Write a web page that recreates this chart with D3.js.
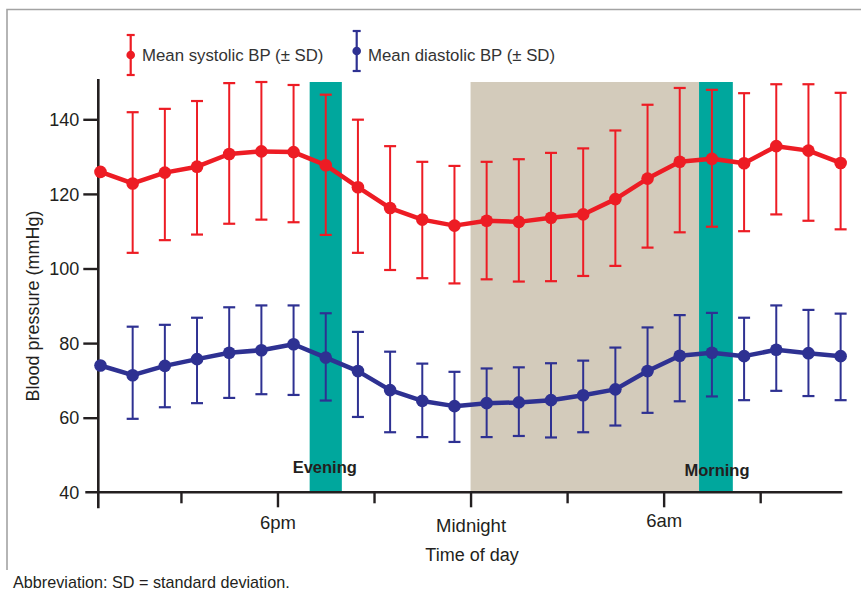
<!DOCTYPE html>
<html>
<head>
<meta charset="utf-8">
<script src="https://cdn.jsdelivr.net/npm/d3@7"></script>
<style>
  html, body { margin: 0; padding: 0; background: #fff; }
  svg { display: block; font-family: "Liberation Sans", Arial, sans-serif; }
</style>
</head>
<body>
<svg id="chart" width="861" height="595"></svg>
<script>
// ---------- data ----------
const hours = [0.5,1.5,2.5,3.5,4.5,5.5,6.5,7.5,8.5,9.5,10.5,11.5,12.5,13.5,14.5,15.5,16.5,17.5,18.5,19.5,20.5,21.5,22.5,23.5]; // hours after noon
const sysMean = [125.9,122.8,125.7,127.3,130.7,131.4,131.2,127.7,121.8,116.2,113.1,111.5,112.8,112.5,113.6,114.5,118.6,124.1,128.6,129.4,128.2,132.8,131.6,128.3];
const sysHigh = [null,141.9,142.8,144.9,149.7,150.0,149.2,146.6,139.9,132.8,128.6,127.5,128.6,129.3,131.0,132.2,137.0,143.9,148.4,147.9,147.0,149.4,149.4,147.1];
const sysLow  = [null,104.2,107.6,109.1,112.0,113.1,112.4,109.0,104.2,99.6,97.4,96.0,97.1,96.5,96.6,98.0,100.7,105.6,109.7,111.2,110.0,114.5,112.8,110.5];
const diaMean = [74.0,71.4,73.9,75.7,77.4,78.1,79.7,76.1,72.5,67.4,64.5,63.1,63.9,64.1,64.7,66.0,67.6,72.5,76.6,77.4,76.5,78.2,77.3,76.5];
const diaHigh = [null,84.4,84.9,86.8,89.6,90.1,90.1,88.0,83.0,77.7,74.5,72.3,73.2,73.5,74.6,75.3,78.8,84.2,87.5,88.1,86.8,90.1,88.9,87.9];
const diaLow  = [null,59.7,62.8,63.9,65.3,66.3,66.1,64.6,60.2,56.1,54.8,53.5,54.8,55.1,54.7,56.1,57.9,61.3,64.4,65.7,64.7,67.2,65.8,64.7];

const yTicks = [40,60,80,100,120,140];
const xTickHours = [3,6,9,12,15,18,21];
const xTickLabels = ["","6pm","","Midnight","","6am",""];
const bandNames = ["Evening","Night","Morning"];
const bandStart = [7,12,19.1];
const bandEnd   = [8,19.1,20.15];
const bandLabels = ["Evening","","Morning"];
const seriesNames = ["Mean systolic BP (\u00b1 SD)","Mean diastolic BP (\u00b1 SD)"];

// ---------- styles ----------
const RED = "#ed1c24", BLUE = "#2e3192", TEAL = "#00a79d", BEIGE = "#d3cbbb", INK = "#231f20";

const svg = d3.select("#chart");
const x = d3.scaleLinear().domain([0,24]).range([84.4, 84.4 + 32.18*24]);
const y = d3.scaleLinear().domain([40,140]).range([492.3,119.3]);
const axisX = 98.3;

// frame (top + left)
svg.append("path").attr("d","M7,570 L7,9.5 L861,9.5").attr("fill","none")
  .attr("stroke","#a3a3a3").attr("stroke-width",1.6);

// bands
const bandColors = [TEAL, BEIGE, TEAL];
svg.append("g").selectAll("rect").data(bandNames).join("rect")
  .attr("x",(d,i)=>x(bandStart[i]))
  .attr("width",(d,i)=>x(bandEnd[i])-x(bandStart[i]))
  .attr("y",y(150)).attr("height",y(40)-y(150))
  .attr("fill",(d,i)=>bandColors[i]);

// y axis
const yAxis = svg.append("g").attr("transform",`translate(${axisX},0)`)
  .call(d3.axisLeft(y).tickValues(yTicks).tickSize(15).tickPadding(4).tickSizeOuter(0));
yAxis.select(".domain").remove();
yAxis.append("line").attr("x1",0).attr("x2",0).attr("y1",y(150.8)).attr("y2",y(40)+16)
  .attr("stroke",INK).attr("stroke-width",2.6);
yAxis.selectAll(".tick line").attr("stroke",INK).attr("stroke-width",2.4);
yAxis.selectAll(".tick text").attr("fill",INK).attr("font-size",18).attr("dy","0.34em")
  .attr("font-family","'Liberation Sans', Arial, sans-serif");
yAxis.selectAll(".tick").filter(d=>d===40).select("line").remove();

// x axis
const xAxis = svg.append("g").attr("transform",`translate(0,${y(40)})`)
  .call(d3.axisBottom(x).tickValues(xTickHours).tickFormat((d,i)=>xTickLabels[i]).tickSizeOuter(0));
xAxis.select(".domain").remove();
xAxis.append("line").attr("x1",axisX-13).attr("x2",x(23.55)).attr("y1",0).attr("y2",0)
  .attr("stroke",INK).attr("stroke-width",2.6);
xAxis.selectAll(".tick line").attr("stroke",INK).attr("stroke-width",2.4)
  .attr("y2",(d,i)=>xTickLabels[i] ? 15 : 11);
const labelDy = {"6pm":36.5, "Midnight":40, "6am":35};
xAxis.selectAll(".tick text").attr("fill",INK).attr("font-size",18.5)
  .attr("font-family","'Liberation Sans', Arial, sans-serif")
  .attr("y",(d,i)=>labelDy[xTickLabels[i]] || 0).attr("dy",0);

// axis titles
svg.append("text").attr("x",472).attr("y",561).attr("text-anchor","middle")
  .attr("font-size",18).attr("fill",INK).text("Time of day");
svg.append("text").attr("transform","translate(39,306) rotate(-90)").attr("text-anchor","middle")
  .attr("font-size",18).attr("fill",INK).text("Blood pressure (mmHg)");

// band labels
svg.append("g").selectAll("text").data(bandLabels.filter(d=>d)).join("text")
  .attr("x",(d)=>{const i=bandLabels.indexOf(d); return x((bandStart[i]+bandEnd[i])/2) - (d==="Evening"?1:-1);})
  .attr("y",(d)=>d==="Evening"?473:475.5)
  .attr("text-anchor","middle").attr("font-size",16.5).attr("font-weight","bold")
  .attr("fill",INK).text(d=>d);

// series
function drawSeries(mean, hi, lo, color){
  const g = svg.append("g");
  const idx = d3.range(mean.length).filter(i=>hi[i]!==null);
  const cap = 6;
  g.selectAll("line.v").data(idx).join("line").attr("class","v")
    .attr("x1",i=>x(hours[i])).attr("x2",i=>x(hours[i]))
    .attr("y1",i=>y(hi[i])).attr("y2",i=>y(lo[i]))
    .attr("stroke",color).attr("stroke-width",2);
  g.selectAll("line.t").data(idx).join("line").attr("class","t")
    .attr("x1",i=>x(hours[i])-cap).attr("x2",i=>x(hours[i])+cap)
    .attr("y1",i=>y(hi[i])).attr("y2",i=>y(hi[i]))
    .attr("stroke",color).attr("stroke-width",2.2);
  g.selectAll("line.b").data(idx).join("line").attr("class","b")
    .attr("x1",i=>x(hours[i])-cap).attr("x2",i=>x(hours[i])+cap)
    .attr("y1",i=>y(lo[i])).attr("y2",i=>y(lo[i]))
    .attr("stroke",color).attr("stroke-width",2.2);
  g.append("path").datum(mean)
    .attr("d",d3.line().x((d,i)=>x(hours[i])).y(d=>y(d)))
    .attr("fill","none").attr("stroke",color).attr("stroke-width",4.5).attr("stroke-linejoin","round");
  g.selectAll("circle").data(mean).join("circle")
    .attr("cx",(d,i)=>x(hours[i])).attr("cy",d=>y(d)).attr("r",6.3).attr("fill",color);
}
drawSeries(sysMean, sysHigh, sysLow, RED);
drawSeries(diaMean, diaHigh, diaLow, BLUE);

// legend
const legend = [
  {name: seriesNames[0], color: RED, mx: 130.7, top: 35, bot: 75, tx: 142},
  {name: seriesNames[1], color: BLUE, mx: 356.7, top: 31, bot: 71, tx: 368}
];
const lg = svg.append("g").selectAll("g").data(legend).join("g");
lg.append("line").attr("x1",d=>d.mx).attr("x2",d=>d.mx).attr("y1",d=>d.top).attr("y2",d=>d.bot)
  .attr("stroke",d=>d.color).attr("stroke-width",2.2);
lg.append("line").attr("x1",d=>d.mx-4).attr("x2",d=>d.mx+4).attr("y1",d=>d.top).attr("y2",d=>d.top)
  .attr("stroke",d=>d.color).attr("stroke-width",2.2);
lg.append("line").attr("x1",d=>d.mx-4).attr("x2",d=>d.mx+4).attr("y1",d=>d.bot).attr("y2",d=>d.bot)
  .attr("stroke",d=>d.color).attr("stroke-width",2.2);
lg.append("circle").attr("cx",d=>d.mx).attr("cy",d=>(d.top+d.bot)/2).attr("r",4.3).attr("fill",d=>d.color);
lg.append("text").attr("x",d=>d.tx).attr("y",61).attr("font-size",16.8).attr("fill","#333")
  .text(d=>d.name);

// footnote
svg.append("text").attr("x",13).attr("y",588).attr("font-size",16.2).attr("fill",INK)
  .text("Abbreviation: SD = standard deviation.");
</script>
</body>
</html>
